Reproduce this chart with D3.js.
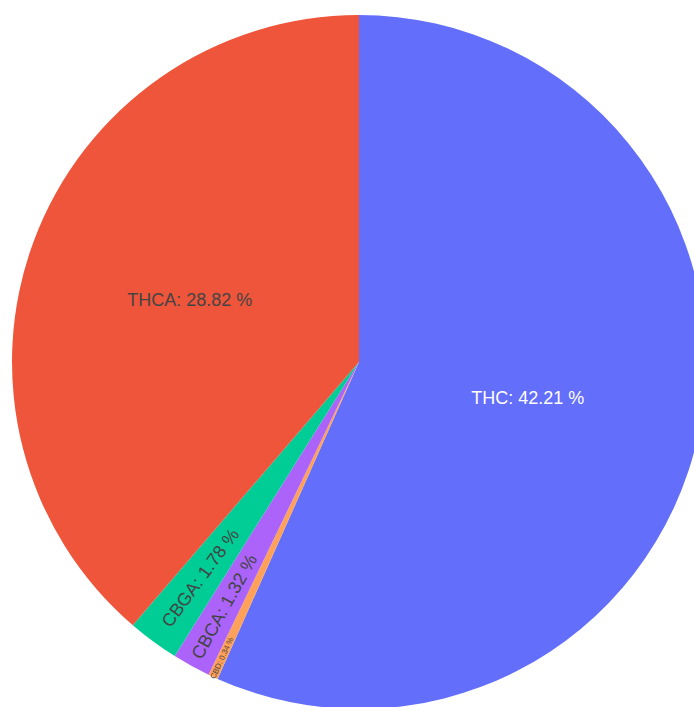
<!DOCTYPE html>
<html>
<head>
<meta charset="utf-8">
<script src="https://cdn.jsdelivr.net/npm/d3@7"></script>
<style>
  body { margin: 0; background: #fff; }
  svg { display: block; }
</style>
</head>
<body>
<div id="chart"></div>
<script>
// slice data, clockwise from 12 o'clock
var labels = ["THC", "CBD", "CBCA", "CBGA", "THCA"];
var values = [42.21, 0.34, 1.32, 1.78, 28.82];
var colors = ["#636efa", "#ffa15a", "#ab63fa", "#00cc96", "#ef553b"];

function init() {
    var w = 694;
    var h = 707;
    var cx = 359, cy = 362, r = 347;

    // how each label sits in its slice
    var labelMode = ["horizontal", "radial", "radial", "radial", "horizontal"];
    var labelDist = [0.497, 0.94, 0.805, 0.772, 0.52];
    var labelSize = [18, 7.8, 18, 18, 18];

    var svg = d3.select("#chart")
                .append("svg")
                .attr("width", w)
                .attr("height", h);

    var pie = d3.pie().sort(null).value(function(d) { return d; });
    var arc = d3.arc().innerRadius(0).outerRadius(r);
    var arcs = pie(values);

    var g = svg.append("g").attr("transform", "translate(" + cx + "," + cy + ")");

    g.selectAll("path")
        .data(arcs)
        .enter()
        .append("path")
        .attr("d", arc)
        .attr("fill", function(d, i) { return colors[i]; });

    g.selectAll("text")
        .data(arcs)
        .enter()
        .append("text")
        .attr("transform", function(d, i) {
            var a = (d.startAngle + d.endAngle) / 2;
            var rr = r * labelDist[i];
            var x = Math.sin(a) * rr, y = -Math.cos(a) * rr;
            var rot = labelMode[i] == "radial" ? (a * 180 / Math.PI - 270) : 0;
            return "translate(" + x + "," + y + ") rotate(" + rot + ")";
        })
        .attr("text-anchor", "middle")
        .attr("dy", "0.35em")
        .style("font-family", "'Liberation Sans', Arial, sans-serif")
        .style("font-size", function(d, i) { return labelSize[i] + "px"; })
        .style("fill", function(d, i) { return i == 0 ? "#ffffff" : "#444444"; })
        .text(function(d, i) { return labels[i] + ": " + values[i].toFixed(2) + " %"; });
}

window.onload = init;
</script>
</body>
</html>
